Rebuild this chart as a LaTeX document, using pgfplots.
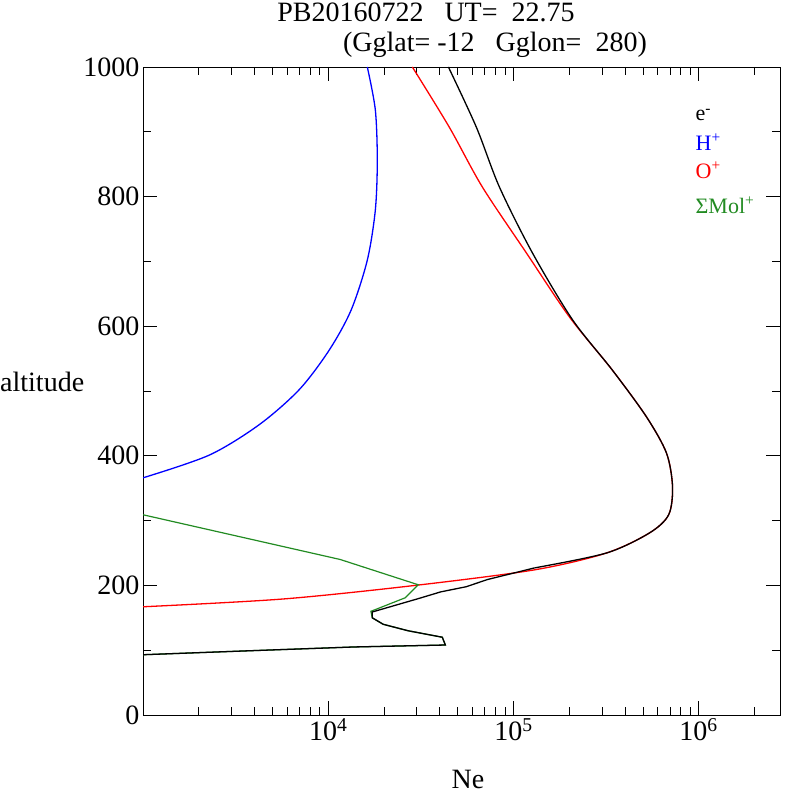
\documentclass[border=0pt]{standalone}
\usepackage{pgfplots}
\pgfplotsset{compat=1.18}
\usepackage{fontspec}
\setmainfont{Liberation Serif}
\definecolor{mgreen}{RGB}{34,139,34}
\newcommand{\fs}{\fontsize{28}{30}\selectfont}
\newcommand{\tl}[1]{\fs 10\textsuperscript{#1}}
\begin{document}
\begin{tikzpicture}
\path[use as bounding box] (-143pt,-81pt) rectangle (649pt,715pt);
\begin{axis}[at={(0pt,0pt)},anchor=south west,scale only axis,width=637pt,height=648pt,
 xmode=log,xmin=1000,xmax=2.75e6,ymin=0,ymax=1000,
 ytick={0,200,...,1000},minor ytick={100,300,...,900},
 xtick={1e4,1e5,1e6},xticklabels={\tl{4},\tl{5},\tl{6}},
 minor xtick={2000,3000,4000,5000,6000,7000,8000,9000,20000,30000,40000,50000,60000,70000,80000,90000,200000,300000,400000,500000,600000,700000,800000,900000,2000000},
 tick align=inside,major tick length=14pt,minor tick length=8pt,
 tick style={black,line width=0.6pt},
 ticklabel style={font=\fs},
 /pgf/number format/assume math mode=true,
 yticklabel style={/pgf/number format/1000 sep={}},
 axis line style={line width=0.8pt},
 clip=true]
\addplot[blue,line width=1.3pt,smooth] coordinates {(16260,1000)(17960,934)(18410,856)(17960,779)(16260,702)(13300,625)(10120,563)(6970,502)(4240,448)(2277,401)(1000,366)};
\addplot[red,line width=1.3pt,smooth] coordinates {(28460,1000)(45080,907)(67900,815)(117500,713)(201000,614)(342600,532)(523000,460)(671000,404)(723000,352)(689000,309)(543000,281)(318000,250)(130000,224)(29500,200)(5690,179)(1000,167)};
\addplot[mgreen,line width=1.2pt] coordinates {(1000,309)(11600,240)(30600,201)(26100,181)(17000,160)(17300,150)(19800,140)(27000,130)(41300,120)(42900,108)(13800,105)(3650,99)(1000,93)};
\addplot[black,line width=1.3pt,smooth] coordinates {(44560,1000)(63100,907)(83950,815)(126700,713)(208400,610)(342600,532)(523000,460)(671000,404)(723000,352)(689000,309)(543000,281)(318000,250)(130000,227)};
\addplot[black,line width=1.3pt] coordinates {(130000,227)(72300,209)(55700,198)(40500,190)(31000,180)(17300,159)(17300,150)(19800,140)(27000,130)(41300,120)(42900,108)(13800,105)(3650,99)(1000,93)};
\node[anchor=west,font=\fontsize{22}{24}\selectfont] at (rel axis cs:0.862,0.926) {e\textsuperscript{-}};
\node[anchor=west,font=\fontsize{22}{24}\selectfont,blue] at (rel axis cs:0.862,0.884) {H\textsuperscript{+}};
\node[anchor=west,font=\fontsize{22}{24}\selectfont,red] at (rel axis cs:0.862,0.841) {O\textsuperscript{+}};
\node[anchor=west,font=\fontsize{22}{24}\selectfont,mgreen] at (rel axis cs:0.862,0.787) {ΣMol\textsuperscript{+}};
\end{axis}
\node[font=\fs] at (283pt,703pt) {PB20160722\ \ \ UT=\ \ 22.75};
\node[font=\fs] at (352pt,670pt) {(Gglat= -12\ \ \ Gglon=\ \ 280)};
\node[anchor=west,font=\fs,inner sep=0pt] at (-143pt,333pt) {altitude};
\node[font=\fs] at (325pt,-64pt) {Ne};
\end{tikzpicture}
\end{document}
